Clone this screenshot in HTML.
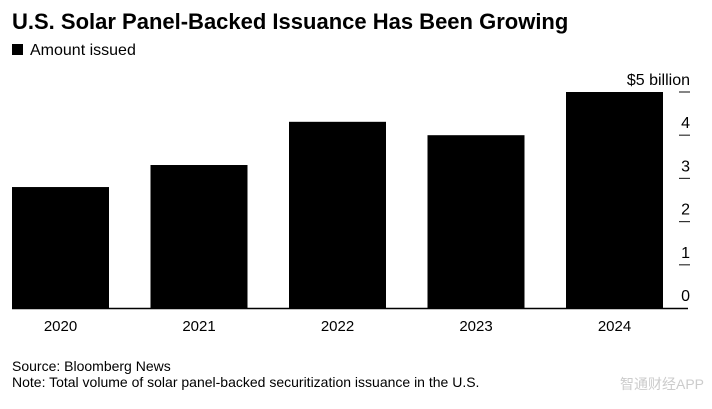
<!DOCTYPE html>
<html><head><meta charset="utf-8"><style>
body{margin:0;background:#fff;width:712px;height:404px;overflow:hidden;font-family:"Liberation Sans","Noto Sans CJK SC",sans-serif;}
</style></head><body>
<svg width="712" height="404" xmlns="http://www.w3.org/2000/svg" font-family="Liberation Sans, Noto Sans CJK SC, sans-serif">
<text x="12" y="29" font-size="22" font-weight="bold" fill="#000">U.S. Solar Panel-Backed Issuance Has Been Growing</text>
<rect x="12" y="44" width="11" height="11" fill="#000"/>
<text x="30" y="55" font-size="16" fill="#000">Amount issued</text>
<g id="bars"></g>
<g id="axis"></g>
<text x="12" y="371" font-size="14" fill="#000">Source: Bloomberg News</text>
<text x="12" y="387" font-size="14" fill="#000">Note: Total volume of solar panel-backed securitization issuance in the U.S.</text>
<text x="704" y="389" font-size="14" fill="#ccc" text-anchor="end">智通财经APP</text>
</svg>
<script>
const categories=["2020","2021","2022","2023","2024"];
const values=[2.8,3.31,4.31,4.0,5.0];
const ticks=[0,1,2,3,4,5];
const tickLabels=["0","1","2","3","4","$5 billion"];
const NS="http://www.w3.org/2000/svg";
const y0=308, k=43.2;
function y(v){return y0-v*k;}
function x(i){return 12+i*138.5;}
const bw=97;
const bg=document.getElementById('bars'), ag=document.getElementById('axis');
function mk(t,a,p){const e=document.createElementNS(NS,t);for(const n in a)e.setAttribute(n,a[n]);p.appendChild(e);return e;}
categories.forEach((c,i)=>{
 const r=mk('rect',{x:x(i),y:y(values[i]),width:bw,height:y0-y(values[i]),fill:'#000'},bg);
 
 
 const t=mk('text',{x:x(i)+bw/2,y:331,'font-size':15,'text-anchor':'middle',fill:'#000'},ag);
 t.textContent=c;
 
 
});
const bl=mk('line',{x1:12,x2:688,y1:y0+0.5,y2:y0+0.5,stroke:'#000','stroke-width':1.5},ag);


ticks.forEach((v,i)=>{
 if(v>0){const l=mk('line',{x1:679,x2:690,y1:y(v),y2:y(v),stroke:'#333','stroke-width':1.2},ag);
 
 }
 const t=mk('text',{x:690,y:y(v)-7,'font-size':16,'text-anchor':'end',fill:'#000'},ag);
 t.textContent=tickLabels[i];
 
 
});
</script>
</body></html>
